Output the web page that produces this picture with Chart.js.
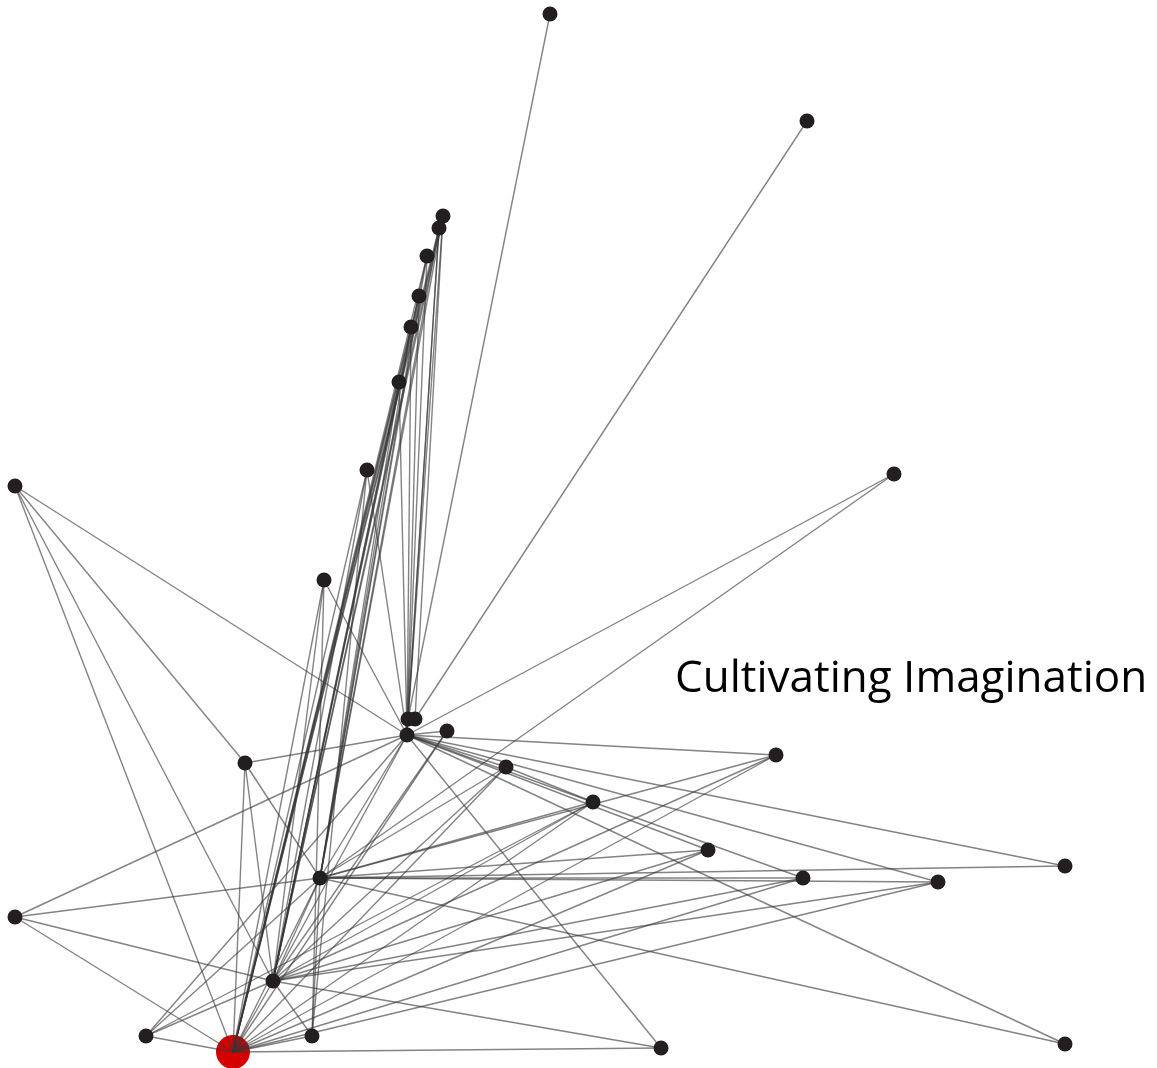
<!DOCTYPE html>
<html>
<head>
<meta charset="utf-8">
<script src="https://cdn.jsdelivr.net/npm/chart.js@4.4.1/dist/chart.umd.min.js"></script>
<style>
  body { margin:0; background:#fff; }
  #wrap { position:relative; width:1157px; height:1068px; }
  #label { position:absolute; left:675px; top:645px; font-family:"Open Sans", sans-serif; font-size:44px; color:#000; white-space:nowrap; }
</style>
</head>
<body>
<div id="wrap">
  <canvas id="net"></canvas>
  <div id="label">Cultivating Imagination</div>
</div>
<script>
// node positions (layout coords, y down)
const nodeX = [550, 807, 443, 439, 427, 419, 411, 399, 367, 894, 15, 324, 408, 415, 447, 407, 245, 776, 506, 593, 708, 320, 803, 938, 1065, 15, 273, 146, 312, 661, 1065, 233];
const nodeY = [14, 121, 216, 228, 256, 296, 327, 382, 470, 474, 486, 580, 719, 719, 731, 735, 763, 755, 767, 802, 850, 878, 878, 882, 866, 917, 981, 1036, 1036, 1048, 1044, 1052];
const focusNode = 31;

// links between nodes (index pairs)
const edges = [
    [0,12],[1,13],[9,15],[9,21],
    [2,31],[2,26],[2,21],[2,15],[2,13],
    [3,31],[3,26],[3,21],[3,15],[3,12],
    [4,31],[4,26],[4,21],[4,15],
    [5,31],[5,26],[5,21],[5,15],
    [6,31],[6,26],[6,21],[6,15],
    [7,31],[7,26],[7,21],[7,15],
    [8,31],[8,26],[8,15],[8,28],
    [10,15],[10,31],[10,26],[10,16],
    [11,15],[11,31],[11,26],[11,28],
    [14,15],[14,26],[14,31],
    [16,15],[16,31],[16,26],[16,21],
    [17,15],[17,21],[17,26],[17,31],
    [18,15],[18,21],[18,26],[18,31],
    [19,18],[19,21],[19,26],[19,31],[19,27],
    [20,21],[20,26],[20,31],[20,15],
    [22,21],[22,26],[22,31],[22,15],
    [23,15],[23,21],[23,26],[23,31],
    [24,15],[24,21],
    [25,15],[25,21],[25,26],[25,31],
    [27,31],[27,26],[27,21],[27,15],
    [28,31],[28,26],[28,21],
    [29,31],[29,15],[29,26],
    [30,15],[30,21],
    [26,31],[26,21],[26,15],
    [21,15],[21,31]
];

const pts = nodeX.map((x, i) => ({ x, y: nodeY[i] }));

const edgeSets = edges.map(([a, b]) => ({
    type: 'line',
    data: [pts[a], pts[b]],
    borderColor: 'rgba(55,55,55,0.62)',
    borderWidth: 1.4,
    pointRadius: 0,
    fill: false,
    clip: false,
    order: 1
}));

new Chart(document.getElementById('net'), {
    type: 'scatter',
    data: {
        datasets: [
            { data: pts.filter((p, i) => i !== focusNode), backgroundColor: '#231f20', borderWidth: 0, pointRadius: 7.5, clip: false, order: 0 },
            ...edgeSets,
            { data: [pts[focusNode]], backgroundColor: '#d40000', borderWidth: 0, pointRadius: 17, clip: false, order: 2 }
        ]
    },
    options: {
        responsive: true,
        maintainAspectRatio: false,
        animation: false,
        layout: { padding: 0, autoPadding: false },
        plugins: { legend: { display: false }, tooltip: { enabled: false } },
        scales: {
            x: { type: 'linear', min: 0, max: 1157, display: false },
            y: { type: 'linear', min: 0, max: 1068, reverse: true, display: false }
        }
    }
});
</script>
</body>
</html>
